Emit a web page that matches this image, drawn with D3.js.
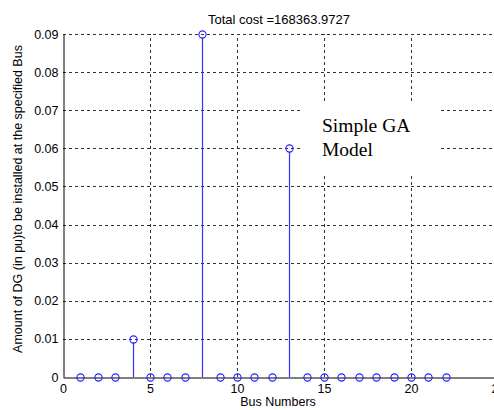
<!DOCTYPE html>
<html>
<head>
<meta charset="utf-8">
<script src="https://cdnjs.cloudflare.com/ajax/libs/d3/7.8.5/d3.min.js"></script>
<style>
body { margin: 0; background: #fff; overflow: hidden; }
text { font-family: "Liberation Sans", Arial, sans-serif; }
</style>
</head>
<body>
<script>
// bus numbers and DG size (pu) per bus
var buses = [1,2,3,4,5,6,7,8,9,10,11,12,13,14,15,16,17,18,19,20,21,22];
var dgSize = [0,0,0,0.01,0,0,0,0.09,0,0,0,0,0.06,0,0,0,0,0,0,0,0,0];
var xTicks = [0,5,10,15,20,25];
var yTicks = [0,0.01,0.02,0.03,0.04,0.05,0.06,0.07,0.08,0.09];
var titleText = "Total cost =168363.9727";

var W = 494, H = 410;
var svg = d3.select("body").append("svg").attr("width", W).attr("height", H);

var x = d3.scaleLinear().domain([0, 25]).range([63, 498]);
var y = d3.scaleLinear().domain([0, 0.09]).range([377, 34]);

// grid
svg.selectAll(".vg").data(xTicks.filter(d => d > 0)).enter().append("line")
    .attr("x1", d => Math.round(x(d)) + 0.5).attr("x2", d => Math.round(x(d)) + 0.5)
    .attr("y1", y(0)).attr("y2", y(0.09))
    .attr("stroke", "#333").attr("stroke-dasharray", "3,3").attr("stroke-width", 1);
svg.selectAll(".hg").data(yTicks.filter(d => d > 0)).enter().append("line")
    .attr("x1", x(0)).attr("x2", x(25))
    .attr("y1", d => Math.round(y(d)) + 0.5).attr("y2", d => Math.round(y(d)) + 0.5)
    .attr("stroke", "#333").attr("stroke-dasharray", "3,3").attr("stroke-width", 1);

// axes
var xAxis = d3.axisBottom(x).tickValues(xTicks).tickSize(0).tickPadding(7).tickFormat(d3.format("d"));
var yAxis = d3.axisLeft(y).tickValues(yTicks).tickSize(0).tickPadding(5).tickFormat(d => d === 0 ? "0" : d3.format(".2f")(d));

var gx = svg.append("g").attr("transform", "translate(0," + (Math.round(y(0)) + 0.5) + ")").call(xAxis);
var gy = svg.append("g").attr("transform", "translate(" + (x(0) + 0.5) + ",0)").call(yAxis);
[gx, gy].forEach(g => {
    g.select(".domain").attr("stroke", "#000");
    g.selectAll("text").attr("font-size", 12.5).attr("fill", "#000")
        .style("font-family", "'Liberation Sans', Arial, sans-serif");
});
gx.selectAll("text").attr("dy", "0.71em");

// text box
var box = svg.append("g");
box.append("rect").attr("x", 300).attr("y", 102).attr("width", 140).attr("height", 71).attr("fill", "#fff");
box.append("text").attr("x", 322).attr("y", 132).text("Simple GA")
    .style("font-family", "'Liberation Serif', 'Times New Roman', serif").attr("font-size", 19.5);
box.append("text").attr("x", 322).attr("y", 156).text("Model")
    .style("font-family", "'Liberation Serif', 'Times New Roman', serif").attr("font-size", 19.5);

// stems
var data = buses.map((b, i) => ({bus: b, v: dgSize[i]}));
svg.selectAll(".stem").data(data.filter(d => d.v > 0)).enter().append("line")
    .attr("x1", d => Math.round(x(d.bus)) + 0.5).attr("x2", d => Math.round(x(d.bus)) + 0.5)
    .attr("y1", y(0)).attr("y2", d => y(d.v) + 3.5)
    .attr("stroke", "#3333ff").attr("stroke-width", 1.2);
svg.selectAll(".mk").data(data).enter().append("circle")
    .attr("cx", d => Math.round(x(d.bus)) + 0.5).attr("cy", d => Math.round(y(d.v)) + 0.5).attr("r", 3.6)
    .attr("fill", "none").attr("stroke", "#2222ff").attr("stroke-width", 1.1);

// labels
svg.append("text").attr("x", 279).attr("y", 24).attr("text-anchor", "middle")
    .attr("font-size", 13).text(titleText);
svg.append("text").attr("x", 278).attr("y", 406).attr("text-anchor", "middle")
    .attr("font-size", 12.5).text("Bus Numbers");
svg.append("text").attr("transform", "translate(22,199) rotate(-90)").attr("text-anchor", "middle")
    .attr("font-size", 12.5).text("Amount of DG (in pu)to be installed at the specified Bus");
</script>
</body>
</html>
